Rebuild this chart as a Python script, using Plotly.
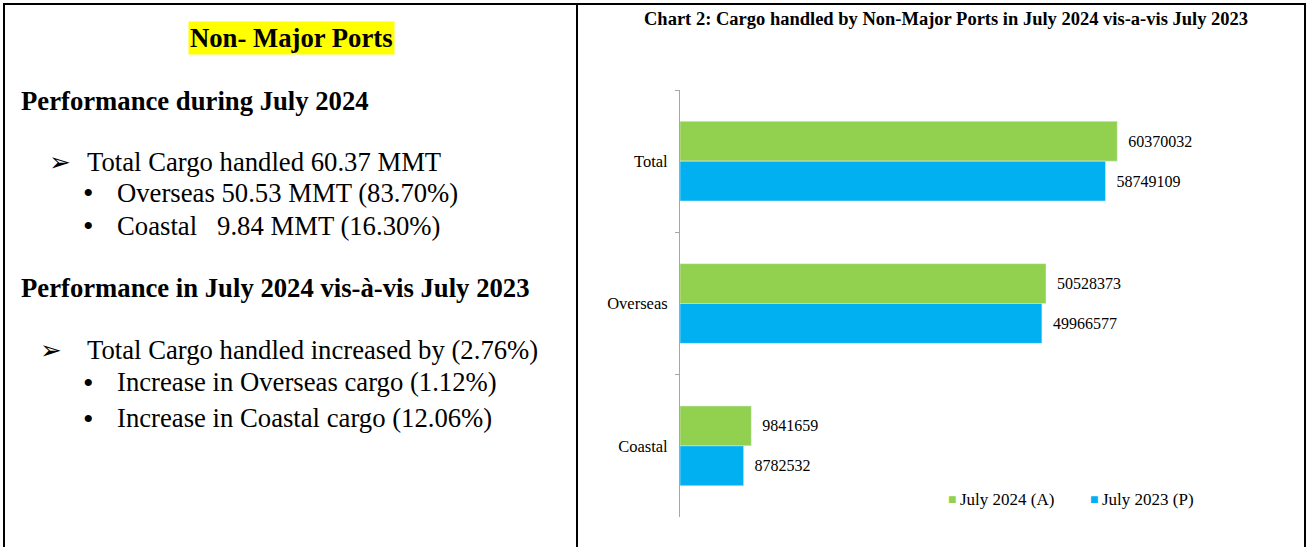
import plotly.graph_objects as go

# chart data
categories = ["Total", "Overseas", "Coastal"]
july_2024 = [60370032, 50528373, 9841659]
july_2023 = [58749109, 49966577, 8782532]
series_names = ["July 2024 (A)", "July 2023 (P)"]

title = "Chart 2: Cargo handled by Non-Major Ports in July 2024 vis-a-vis July 2023"

# left panel text
panel_heading = "Non- Major Ports"
section_1 = "Performance during July 2024"
section_1_lines = [
    ("➢", "Total Cargo handled 60.37 MMT"),
    ("•", "Overseas 50.53 MMT (83.70%)"),
    ("•", "Coastal   9.84 MMT (16.30%)"),
]
section_2 = "Performance in July 2024 vis-à-vis July 2023"
section_2_lines = [
    ("➢", "Total Cargo handled increased by (2.76%)"),
    ("•", "Increase in Overseas cargo (1.12%)"),
    ("•", "Increase in Coastal cargo (12.06%)"),
]

W, H = 1309, 547
SERIF = "Liberation Serif"
GREEN = "#92D050"
BLUE = "#00B0F0"
TXT = 26.7


def px(x):
    return x / W


def py(y):
    return 1 - y / H


fig = go.Figure()

for name, vals, color in [(series_names[0], july_2024, GREEN), (series_names[1], july_2023, BLUE)]:
    fig.add_trace(go.Bar(
        y=categories, x=vals, name=name, orientation="h",
        marker=dict(color=color),
        text=[str(v) for v in vals], texttemplate="  %{text}",
        textposition="outside",
        textfont=dict(family=SERIF, size=16, color="#000"),
        cliponaxis=False,
        showlegend=False,
    ))

annotations = [
    dict(text=f"<b>{title}</b>", x=px(946), y=py(19), font=dict(size=18.5)),
    dict(text=f"<b>{panel_heading}</b>", x=px(291), y=py(38), font=dict(size=TXT),
         bgcolor="#FFFF00", borderpad=1),
    dict(text=f"<b>{section_1}</b>", x=px(19), y=py(101), xanchor="left", font=dict(size=TXT)),
    dict(text=f"<b>{section_2}</b>", x=px(19), y=py(288), xanchor="left", font=dict(size=TXT)),
]


def add_lines(lines, ys, arrow_x):
    for (sym, line), yy in zip(lines, ys):
        if sym == "➢":
            sx, tx, ss = arrow_x, 85, 26
        else:
            sx, tx, ss = 81, 115, 30
        annotations.append(dict(text=sym, x=px(sx), y=py(yy), xanchor="left", font=dict(size=ss)))
        annotations.append(dict(text=line, x=px(tx), y=py(yy), xanchor="left", font=dict(size=TXT)))


add_lines(section_1_lines, [162, 193, 226], 47)
add_lines(section_2_lines, [350, 382, 418], 38)

# legend entries: small coloured square followed by the series name
for name, color, sq_x in [(series_names[0], GREEN, 946), (series_names[1], BLUE, 1088)]:
    annotations.append(dict(text="■", x=px(sq_x), y=py(498), xanchor="left",
                            font=dict(size=14, color=color)))
    annotations.append(dict(text=name, x=px(sq_x + 12), y=py(499), xanchor="left",
                            font=dict(size=17)))

for a in annotations:
    a.update(xref="paper", yref="paper", showarrow=False)
    a.setdefault("xanchor", "center")
    a["yanchor"] = "middle"
    a["font"].setdefault("color", "#000")
    if a["text"] != "■":
        a["font"]["family"] = SERIF

# table borders
shapes = [
    dict(type="line", x0=px(3), x1=px(1306), y0=py(4), y1=py(4)),
    dict(type="line", x0=px(4), x1=px(4), y0=py(4), y1=py(H + 5)),
    dict(type="line", x0=px(1305), x1=px(1305), y0=py(4), y1=py(H + 5)),
    dict(type="line", x0=px(577), x1=px(577), y0=py(4), y1=py(H + 5)),
]
for s in shapes:
    s.update(xref="paper", yref="paper", line=dict(color="#000", width=2))

fig.update_layout(
    width=W, height=H,
    margin=dict(l=0, r=0, t=0, b=0),
    paper_bgcolor="#FFFFFF",
    plot_bgcolor="#FFFFFF",
    barmode="group",
    bargap=0.44,
    bargroupgap=0,
    xaxis=dict(domain=[px(680), px(1187)], range=[0, 70000000], visible=False),
    yaxis=dict(
        domain=[py(517), py(90)],
        autorange="reversed",
        showline=True, linecolor="#A6A6A6", linewidth=1,
        ticks="outside", ticklen=4, tickcolor="#A6A6A6", tickson="boundaries",
        showgrid=False,
        tickfont=dict(family=SERIF, size=16.5, color="#000"),
        ticklabelstandoff=8,
    ),
    annotations=annotations,
    shapes=shapes,
    showlegend=False,
)

fig.write_html(
    "out.html",
    config={"displayModeBar": False},
    post_script="document.body.style.margin='0px';",
)
